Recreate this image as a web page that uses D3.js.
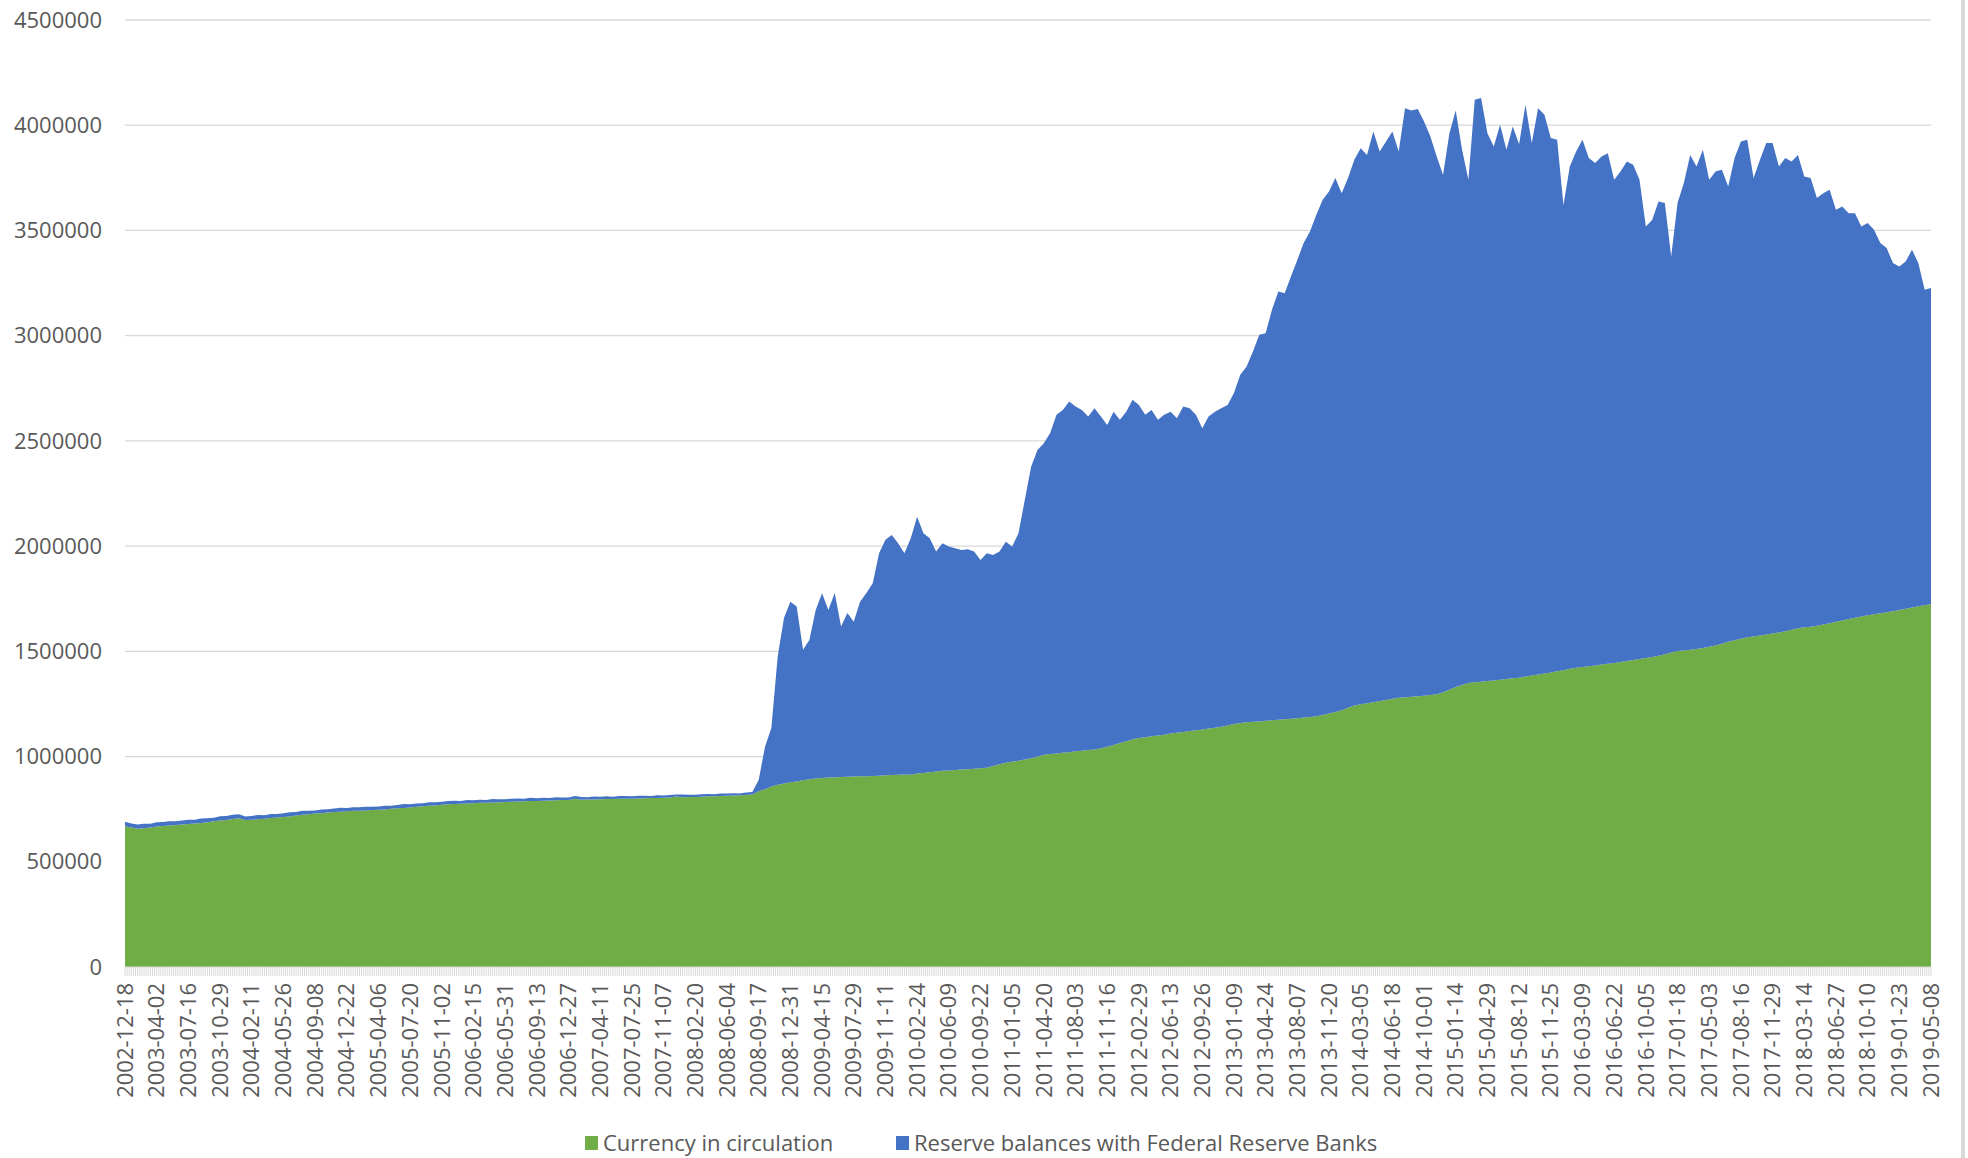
<!DOCTYPE html>
<html>
<head>
<meta charset="utf-8">
<title>Currency in circulation and reserve balances</title>
<script src="https://cdn.jsdelivr.net/npm/d3@7"></script>
<style>
  body { margin: 0; background: #fff; }
  svg text { font-family: "Open Sans", sans-serif; fill: #595959; }
</style>
</head>
<body>
<script>
// weekly categories (Wednesdays), one sample value every 3rd week
var firstWeek = "2002-12-18";
var lastWeek = "2019-05-08";
var sampleStep = 3;

var tickLabels = [
  "2002-12-18","2003-04-02","2003-07-16","2003-10-29","2004-02-11","2004-05-26","2004-09-08","2004-12-22",
  "2005-04-06","2005-07-20","2005-11-02","2006-02-15","2006-05-31","2006-09-13","2006-12-27","2007-04-11",
  "2007-07-25","2007-11-07","2008-02-20","2008-06-04","2008-09-17","2008-12-31","2009-04-15","2009-07-29",
  "2009-11-11","2010-02-24","2010-06-09","2010-09-22","2011-01-05","2011-04-20","2011-08-03","2011-11-16",
  "2012-02-29","2012-06-13","2012-09-26","2013-01-09","2013-04-24","2013-08-07","2013-11-20","2014-03-05",
  "2014-06-18","2014-10-01","2015-01-14","2015-04-29","2015-08-12","2015-11-25","2016-03-09","2016-06-22",
  "2016-10-05","2017-01-18","2017-05-03","2017-08-16","2017-11-29","2018-03-14","2018-06-27","2018-10-10",
  "2019-01-23","2019-05-08"
];

var seriesKeys = ["currency", "reserves"];
var seriesNames = ["Currency in circulation", "Reserve balances with Federal Reserve Banks"];
var seriesColors = ["#70ad47", "#4472c4"];

// millions of dollars
var currency = [
  669000,663000,657000,659000,663000,668000,670000,672000,675000,677000,
  680000,682000,684000,688000,692000,696000,699000,703000,707000,698000,
  700000,702000,705000,708000,710000,713000,715000,720000,724000,726000,
  729000,731000,734000,736000,738000,740000,742000,743000,744000,746000,
  747000,749000,752000,754000,756000,758000,761000,764000,766000,768000,
  771000,773000,775000,776000,777000,778000,780000,781000,782000,783000,
  784000,785000,787000,788000,789000,789000,790000,791000,792000,793000,
  794000,799000,795000,796000,796000,797000,798000,798000,799000,800000,
  800000,801000,802000,803000,803000,804000,805000,810000,807000,808000,
  808000,809000,811000,811000,812000,814000,815000,816000,817000,820000,
  835000,845000,858000,866000,872000,878000,882000,887000,892000,896000,
  898000,900000,902000,903000,904000,905000,906000,907000,908000,909000,
  911000,912000,914000,915000,914000,919000,922000,926000,929000,932000,
  934000,936000,938000,940000,942000,944000,947000,955000,964000,970000,
  975000,980000,986000,992000,999000,1008000,1012000,1015000,1018000,1021000,
  1025000,1028000,1031000,1034000,1040000,1047000,1055000,1064000,1073000,1082000,
  1088000,1092000,1096000,1100000,1104000,1109000,1113000,1117000,1121000,1125000,
  1129000,1133000,1137000,1142000,1148000,1155000,1160000,1163000,1165000,1167000,
  1170000,1172000,1175000,1177000,1180000,1182000,1185000,1188000,1192000,1198000,
  1205000,1212000,1220000,1232000,1243000,1248000,1253000,1258000,1264000,1269000,
  1275000,1279000,1282000,1284000,1287000,1289000,1292000,1296000,1305000,1318000,
  1330000,1340000,1350000,1353000,1356000,1359000,1362000,1365000,1368000,1372000,
  1375000,1380000,1385000,1390000,1395000,1400000,1405000,1410000,1417000,1422000,
  1425000,1429000,1433000,1437000,1441000,1445000,1449000,1454000,1459000,1463000,
  1468000,1473000,1479000,1486000,1494000,1501000,1504000,1507000,1511000,1516000,
  1522000,1528000,1536000,1545000,1553000,1560000,1567000,1571000,1575000,1580000,
  1585000,1590000,1596000,1603000,1610000,1614000,1617000,1622000,1628000,1634000,
  1640000,1647000,1654000,1660000,1666000,1671000,1676000,1681000,1686000,1691000,
  1696000,1702000,1708000,1714000,1719000,1725000
];

var reserves = [
  21000,19000,20000,22000,18000,20000,19000,21000,17000,19000,
  20000,18000,22000,19000,17000,20000,18000,21000,19000,17000,
  18000,20000,16000,19000,17000,18000,20000,16000,18000,17000,
  15000,18000,16000,17000,19000,15000,17000,16000,18000,15000,
  16000,17000,14000,16000,18000,15000,16000,14000,17000,15000,
  14000,16000,15000,13000,16000,14000,15000,13000,16000,14000,
  13000,15000,14000,12000,15000,13000,14000,12000,15000,13000,
  12000,14000,13000,11000,14000,12000,13000,11000,14000,12000,
  11000,13000,12000,10000,13000,11000,12000,10000,13000,11000,
  10000,12000,11000,10000,12000,10000,11000,9000,12000,12000,
  54000,202000,278000,609000,787000,858000,831000,620000,662000,801000,
  878000,797000,875000,715000,778000,736000,830000,870000,916000,1057000,
  1119000,1141000,1100000,1051000,1123000,1221000,1139000,1111000,1045000,1082000,
  1064000,1054000,1044000,1045000,1032000,990000,1019000,1003000,1010000,1051000,
  1023000,1081000,1234000,1386000,1458000,1481000,1525000,1609000,1629000,1666000,
  1638000,1619000,1585000,1621000,1576000,1529000,1584000,1536000,1566000,1613000,
  1583000,1532000,1551000,1500000,1520000,1530000,1495000,1546000,1534000,1499000,
  1431000,1483000,1502000,1513000,1523000,1572000,1654000,1690000,1760000,1837000,
  1842000,1951000,2035000,2025000,2101000,2178000,2255000,2307000,2382000,2448000,
  2480000,2537000,2457000,2517000,2593000,2643000,2606000,2712000,2611000,2654000,
  2695000,2596000,2799000,2786000,2790000,2729000,2655000,2555000,2459000,2644000,
  2740000,2543000,2391000,2768000,2773000,2603000,2537000,2637000,2515000,2622000,
  2535000,2717000,2530000,2691000,2655000,2539000,2526000,2210000,2387000,2453000,
  2506000,2415000,2387000,2414000,2426000,2296000,2331000,2374000,2353000,2278000,
  2051000,2077000,2159000,2144000,1882000,2129000,2221000,2352000,2293000,2367000,
  2219000,2252000,2252000,2164000,2291000,2363000,2364000,2178000,2260000,2335000,
  2330000,2214000,2248000,2225000,2249000,2142000,2132000,2032000,2049000,2059000,
  1958000,1967000,1928000,1922000,1853000,1864000,1827000,1759000,1730000,1654000,
  1633000,1651000,1700000,1631000,1499000,1501000
];

var width = 1968, height = 1158;
var plotLeft = 125, plotRight = 1931, plotTop = 20, plotBottom = 967;

var parseDay = d3.utcParse("%Y-%m-%d"), fmtDay = d3.utcFormat("%Y-%m-%d");
var weeks = d3.utcDay.range(parseDay(firstWeek), d3.utcDay.offset(parseDay(lastWeek), 1), 7).map(fmtDay);

var rows = currency.map(function(c, j) {
  return { week: weeks[j * sampleStep], currency: c, reserves: reserves[j] };
});

var x = d3.scalePoint().domain(weeks).range([plotLeft, plotRight]);
var y = d3.scaleLinear().domain([0, 4500000]).range([plotBottom, plotTop]);

var svg = d3.select("body").append("svg")
  .attr("width", width)
  .attr("height", height)
  .style("display", "block");

svg.append("rect").attr("width", width).attr("height", height).attr("fill", "#fff");

// gridlines
svg.append("g").selectAll("line")
  .data(y.ticks(9).filter(function(d) { return d > 0; }))
  .enter().append("line")
  .attr("x1", plotLeft).attr("x2", plotRight)
  .attr("y1", function(d) { return y(d); }).attr("y2", function(d) { return y(d); })
  .attr("stroke", "#d9d9d9").attr("stroke-width", 1.3);

// stacked areas
var stacked = d3.stack().keys(seriesKeys)(rows);
var area = d3.area()
  .x(function(d) { return x(d.data.week); })
  .y0(function(d) { return y(d[0]); })
  .y1(function(d) { return y(d[1]); });

svg.append("g").selectAll("path")
  .data(stacked)
  .enter().append("path")
  .attr("d", area)
  .attr("fill", function(d, i) { return seriesColors[i]; });

// category axis: line and a tick at every week
svg.append("line")
  .attr("x1", plotLeft).attr("x2", plotRight)
  .attr("y1", y(0)).attr("y2", y(0))
  .attr("stroke", "#d9d9d9").attr("stroke-width", 1);

svg.append("g").selectAll("line")
  .data(weeks)
  .enter().append("line")
  .attr("x1", function(d) { return x(d); }).attr("x2", function(d) { return x(d); })
  .attr("y1", y(0)).attr("y2", y(0) + 9)
  .attr("stroke", "#d9d9d9").attr("stroke-width", 1);

// y labels
svg.append("g").selectAll("text")
  .data(y.ticks(9))
  .enter().append("text")
  .attr("x", 102)
  .attr("y", function(d) { return y(d); })
  .attr("dy", "0.35em")
  .attr("text-anchor", "end")
  .attr("font-size", "22px")
  .text(d3.format("d"));

// x labels
svg.append("g").selectAll("text")
  .data(tickLabels)
  .enter().append("text")
  .attr("transform", function(d) { return "translate(" + x(d) + "," + (plotBottom + 16) + ") rotate(-90)"; })
  .attr("dy", "0.35em")
  .attr("text-anchor", "end")
  .attr("font-size", "22px")
  .text(function(d) { return d; });

// legend
var legendX = [585, 896];
var legend = svg.append("g").selectAll("g")
  .data(seriesNames)
  .enter().append("g")
  .attr("transform", function(d, i) { return "translate(" + legendX[i] + ",1143)"; });

legend.append("rect")
  .attr("x", 0).attr("y", -7)
  .attr("width", 13).attr("height", 14)
  .attr("fill", function(d, i) { return seriesColors[i]; });

legend.append("text")
  .attr("x", 18)
  .attr("dy", "0.35em")
  .attr("font-size", "22px")
  .text(function(d) { return d; });

// frame edge on the right
svg.append("rect")
  .attr("x", 1961).attr("y", 0)
  .attr("width", 4).attr("height", height)
  .attr("fill", "#d9d9d9");
</script>
</body>
</html>
